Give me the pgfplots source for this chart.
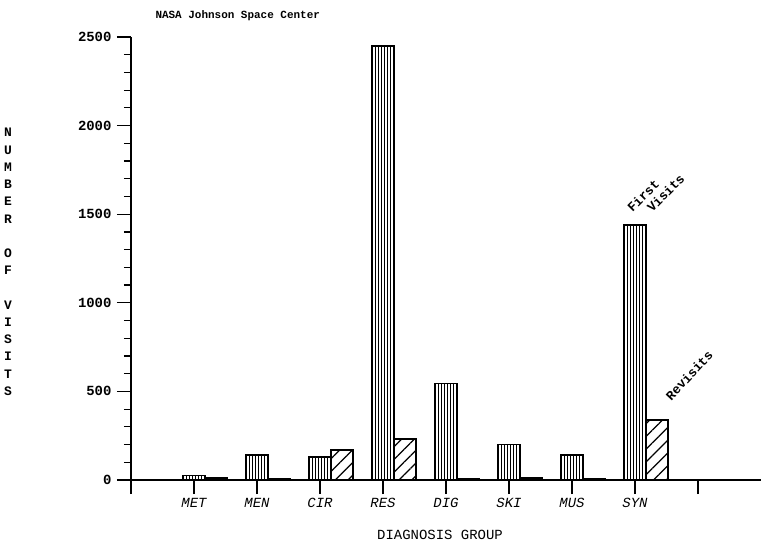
\documentclass[border=0pt]{standalone}
\usepackage{pgfplots}
\pgfplotsset{compat=1.18}
\usetikzlibrary{patterns.meta}
\usepackage{fontspec}
\setmainfont{Liberation Mono}
\begin{document}
\begin{tikzpicture}
\begin{axis}[
    scale only axis,
    width=630bp,
    height=443bp,
    xmin=0, xmax=10,
    ymin=0, ymax=2500,
    axis x line=bottom,
    axis y line=left,
    axis line style={-, line width=1.5bp},
    xtick={0,...,9},
    xticklabels={,MET,MEN,CIR,RES,DIG,SKI,MUS,SYN,},
    ytick={0,500,...,2500},
    minor y tick num=4,
    tick align=outside,
    major tick length=14bp,
    minor tick length=7bp,
    tick style={black, line width=1.2bp},
    xticklabel style={font=\fontsize{14}{16}\selectfont\itshape, yshift=-1bp},
    yticklabel style={font=\fontsize{14}{16}\selectfont\bfseries, xshift=-2bp},
    /pgf/number format/assume math mode=true,
    /pgf/number format/1000 sep={},
    scaled y ticks=false,
    ybar,
    bar width=0.35,
    clip=false,
]
% first visits
\addplot[draw=black, line width=1.5bp, bar shift=0,
    pattern={Lines[angle=90, distance=3bp, line width=1bp]}]
    coordinates {(1,25) (2,140) (3,130) (4,2450) (5,545) (6,200) (7,140) (8,1440)};
% revisits
\addplot[draw=black, line width=1.5bp, bar shift=0.35,
    pattern={Lines[angle=45, distance=9bp, line width=1.2bp]}]
    coordinates {(1,10) (2,5) (3,170) (4,230) (5,5) (6,10) (7,5) (8,340)};
\node[rotate=45, align=left, font=\fontsize{13}{14}\selectfont\bfseries]
    at (axis cs:8.33,1620) {First\\\hspace*{14bp}Visits};
\node[rotate=47, font=\fontsize{13}{14}\selectfont\bfseries]
    at (axis cs:8.86,590) {Revisits};
\end{axis}
\node[anchor=west, font=\fontsize{11}{13}\selectfont\bfseries] at (21bp,464bp) {NASA Johnson Space Center};
\node[align=center, font=\fontsize{13}{17.3}\selectfont\bfseries] at (-123bp,218bp)
    {N\\U\\M\\B\\E\\R\\ \\O\\F\\ \\V\\I\\S\\I\\T\\S};
\node[font=\fontsize{14}{16}\selectfont] at (309bp,-55bp) {DIAGNOSIS GROUP};
\pgfresetboundingbox
\path (-131bp,-68bp) rectangle (630bp,480bp);
\end{tikzpicture}
\end{document}
